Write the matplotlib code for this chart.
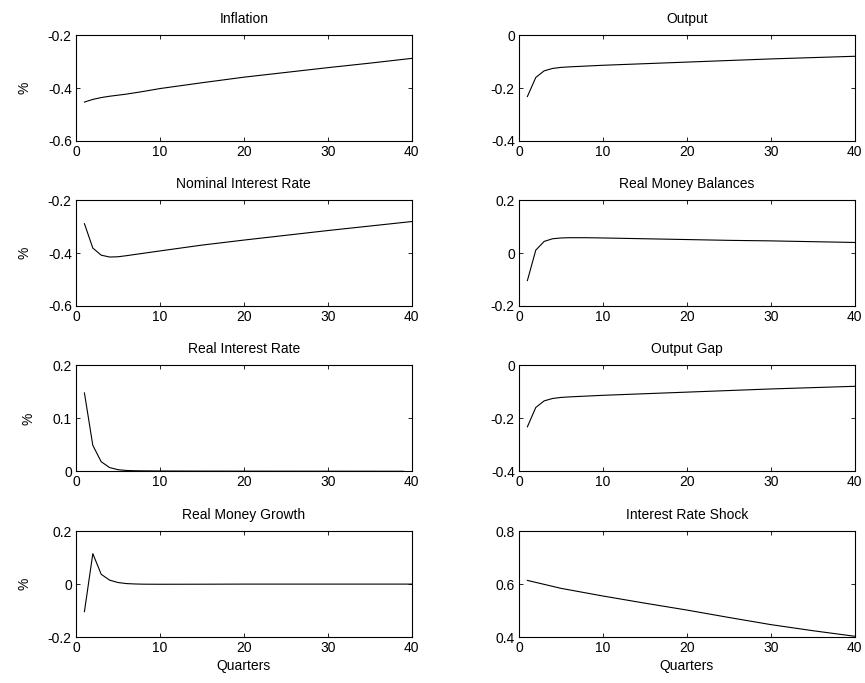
import matplotlib
matplotlib.use("Agg")
import matplotlib.pyplot as plt
from matplotlib.ticker import FuncFormatter

plt.rcParams['font.family'] = ['Liberation Sans', 'DejaVu Sans']
plt.rcParams['font.size'] = 10
plt.rcParams['axes.unicode_minus'] = False

# impulse responses (quarters, %)
q_inflation = [1, 2, 3, 4, 5, 6, 8, 10, 15, 20, 25, 30, 35, 40]
inflation = [-0.453, -0.443, -0.436, -0.431, -0.427, -0.423, -0.413, -0.402,
             -0.380, -0.359, -0.341, -0.323, -0.306, -0.288]

q_output = [1, 2, 3, 4, 5, 6, 8, 10, 15, 20, 25, 30, 35, 40]
output = [-0.232, -0.160, -0.135, -0.126, -0.122, -0.120, -0.117, -0.114,
          -0.108, -0.102, -0.096, -0.090, -0.085, -0.080]

q_nominal = [1, 2, 3, 4, 5, 6, 8, 10, 15, 20, 25, 30, 35, 40]
nominal = [-0.289, -0.381, -0.408, -0.415, -0.414, -0.410, -0.401, -0.392,
           -0.370, -0.351, -0.333, -0.315, -0.298, -0.281]

q_money = [1, 2, 3, 4, 5, 6, 8, 10, 15, 20, 25, 30, 35, 40]
money = [-0.104, 0.011, 0.044, 0.054, 0.057, 0.058, 0.058, 0.057,
         0.054, 0.051, 0.048, 0.046, 0.043, 0.040]

q_real = [1, 2, 3, 4, 5, 6, 7, 8, 10, 15, 20, 30, 39]
real_rate = [0.148, 0.049, 0.018, 0.007, 0.003, 0.0015, 0.001, 0.0008,
             0.0005, 0.0003, 0.0002, 0.0001, 0.0]

q_gap = [1, 2, 3, 4, 5, 6, 8, 10, 15, 20, 25, 30, 35, 40]
gap = [-0.232, -0.159, -0.134, -0.125, -0.121, -0.119, -0.116, -0.113,
       -0.107, -0.101, -0.095, -0.089, -0.084, -0.079]

q_growth = [1, 2, 3, 4, 5, 6, 7, 8, 10, 15, 20, 30, 40]
growth = [-0.104, 0.115, 0.037, 0.015, 0.006, 0.002, 0.0005, -0.0003,
          -0.0006, -0.0004, 0.0, 0.0, 0.0]

q_shock = [1, 5, 10, 15, 20, 25, 30, 35, 40]
shock = [0.614, 0.584, 0.555, 0.528, 0.502, 0.474, 0.447, 0.424, 0.403]

panels = [
    ("Inflation", q_inflation, inflation, (-0.6, -0.2)),
    ("Output", q_output, output, (-0.4, 0)),
    ("Nominal Interest Rate", q_nominal, nominal, (-0.6, -0.2)),
    ("Real Money Balances", q_money, money, (-0.2, 0.2)),
    ("Real Interest Rate", q_real, real_rate, (0, 0.2)),
    ("Output Gap", q_gap, gap, (-0.4, 0)),
    ("Real Money Growth", q_growth, growth, (-0.2, 0.2)),
    ("Interest Rate Shock", q_shock, shock, (0.4, 0.8)),
]

fig = plt.figure(figsize=(8.65, 6.83), dpi=100)

lefts = [0.0879, 0.600]
bottoms = [0.7936, 0.552, 0.310, 0.0673]
w = 0.388
h = 0.155

fmt = FuncFormatter(lambda v, p: f"{round(v, 6):g}")

for i, (title, xs, ys, ylim) in enumerate(panels):
    row, col = i // 2, i % 2
    ax = fig.add_axes([lefts[col], bottoms[row], w, h])
    ax.plot(xs, ys, color="black", linewidth=0.8)
    ax.set_xlim(0, 40)
    ax.set_ylim(*ylim)
    ax.set_xticks([0, 10, 20, 30, 40])
    lo, hi = ylim
    ax.set_yticks([lo, (lo + hi) / 2, hi])
    ax.yaxis.set_major_formatter(fmt)
    ax.tick_params(direction="in", length=3, width=0.6, top=True, right=True,
                   labelsize=10, pad=3)
    for s in ax.spines.values():
        s.set_linewidth(0.8)
    ax.set_title(title, fontsize=10, pad=9)
    if col == 0:
        ax.set_ylabel("%", fontsize=10, labelpad=12)
    if row == 3:
        ax.set_xlabel("Quarters", fontsize=10, labelpad=3)

fig.savefig("out.png", dpi=100)
